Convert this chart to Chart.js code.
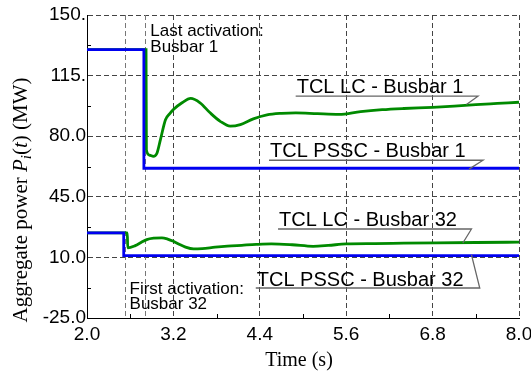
<!DOCTYPE html>
<html><head><meta charset="utf-8">
<script src="https://cdn.jsdelivr.net/npm/chart.js@4/dist/chart.umd.min.js"></script>
<style>html,body{margin:0;padding:0;background:#fff;overflow:hidden}</style>
</head><body>
<canvas id="c" width="531" height="373"></canvas>
<script>
// ---- data ----
const pssc1Time  = [2.0, 2.79, 2.79, 8.0];
const pssc1Power = [130, 130, 61.5, 61.5];
const pssc32Time  = [2.0, 2.51, 2.51, 8.0];
const pssc32Power = [24.2, 24.2, 11, 11];
const lc1Time  = [2.0, 2.80, 2.82, 2.825, 2.87, 2.92, 2.97, 3.02, 3.09, 3.15, 3.2, 3.32, 3.44, 3.57, 3.71, 3.85, 3.99, 4.13, 4.31, 4.5, 4.7, 4.9, 5.2, 5.5, 5.8, 6.1, 6.4, 6.8, 7.1, 7.4, 7.7, 8.0];
const lc1Power = [130, 130, 130, 72, 69, 68.4, 70, 78, 89.5, 93, 95.4, 99.3, 101.8, 99.3, 93.5, 88.6, 85.8, 86.7, 90, 92.3, 93.2, 93.5, 93, 92.6, 94.2, 95.3, 96, 96.7, 97.4, 98.2, 98.9, 99.6];
const lc32Time  = [2.0, 2.56, 2.565, 2.67, 2.75, 2.83, 2.93, 3.04, 3.12, 3.2, 3.28, 3.36, 3.48, 3.6, 3.78, 3.95, 4.15, 4.35, 4.56, 4.85, 5.14, 5.35, 5.6, 6.0, 6.4, 6.85, 7.4, 8.0];
const lc32Power = [24.2, 24.2, 15.5, 16.8, 18.6, 20.3, 21.1, 21.3, 20.6, 19.3, 17.6, 16.1, 14.9, 15.1, 15.9, 16.5, 17, 17.5, 17.8, 17.3, 16.4, 16.9, 17.8, 18.0, 18.2, 18.4, 18.6, 18.8];
const activationTimes = [2.53, 2.81];
const xTickLabels = ['2.0', '3.2', '4.4', '5.6', '6.8', '8.0'];
const yTickLabels = ['-25.0', '10.0', '45.0', '80.0', '115.', '150.'];
const seriesNames = ['TCL PSSC - Busbar 1', 'TCL PSSC - Busbar 32', 'TCL LC - Busbar 1', 'TCL LC - Busbar 32'];
const xTitle = 'Time (s)';

// ---- build chart ----
const pts = (t, v) => t.map((x, i) => ({x: x, y: v[i]}));
const BLUE = '#0000f0', GREEN = '#008a00';

const calloutPlugin = {
  id: 'callouts',
  beforeDatasetsDraw(chart) {
    const {ctx, chartArea: a, scales: {x}} = chart;
    ctx.save();
    ctx.strokeStyle = '#777';
    ctx.lineWidth = 1;
    ctx.setLineDash([5, 3]);
    activationTimes.forEach(t => {
      const px = Math.round(x.getPixelForValue(t)) + 0.5;
      ctx.beginPath(); ctx.moveTo(px, a.top); ctx.lineTo(px, a.bottom); ctx.stroke();
    });
    ctx.restore();
  },
  afterDraw(chart) {
    const {ctx, chartArea: a, scales: {x, y}} = chart;
    ctx.save();
    // minor inner ticks
    ctx.strokeStyle = '#000'; ctx.lineWidth = 1;
    x.ticks.forEach((tk, i) => { if (i % 2) { const px = Math.round(x.getPixelForValue(tk.value)) + 0.5; ctx.beginPath(); ctx.moveTo(px, a.bottom); ctx.lineTo(px, a.bottom - 4); ctx.stroke(); } });
    y.ticks.forEach((tk, i) => { if (i % 2) { const py = Math.round(y.getPixelForValue(tk.value)) + 0.5; ctx.beginPath(); ctx.moveTo(a.left, py); ctx.lineTo(a.left + 4, py); ctx.stroke(); } });

    // callouts
    const co = [
      {name: seriesNames[2], tx: 4.912, ty: 105.0, ux: 7.43, uy: 103.1, px: 7.27, py: 98.3},
      {name: seriesNames[0], tx: 4.542, ty: 68.0, ux: 7.50, uy: 66.1, px: 7.306, py: 61.0},
      {name: seriesNames[3], tx: 4.667, ty: 27.9, ux: 7.34, uy: 26.4, px: 7.22, py: 18.3},
      {name: seriesNames[1], tx: 4.358, ty: -6.3, ux: 7.455, uy: -7.66, px: 7.34, py: 11.5}
    ];
    ctx.font = '20px "Liberation Sans", Arial, sans-serif';
    ctx.fillStyle = '#000'; ctx.textAlign = 'left'; ctx.textBaseline = 'alphabetic';
    co.forEach(c => {
      const tx = x.getPixelForValue(c.tx), ty = y.getPixelForValue(c.ty);
      ctx.fillText(c.name, tx, ty);
      const uy = y.getPixelForValue(c.uy), ux = x.getPixelForValue(c.ux);
      ctx.strokeStyle = '#666'; ctx.lineWidth = 1.3;
      ctx.beginPath(); ctx.moveTo(tx - 1, uy); ctx.lineTo(ux, uy);
      ctx.lineTo(x.getPixelForValue(c.px), y.getPixelForValue(c.py)); ctx.stroke();
    });
    // activation notes
    ctx.font = '17px "Liberation Sans", Arial, sans-serif';
    ctx.fillStyle = '#000';
    const n1x = x.getPixelForValue(2.879);
    ctx.fillText('Last activation:', n1x, y.getPixelForValue(137.75));
    ctx.fillText('Busbar 1', n1x, y.getPixelForValue(128.5));
    const n2x = x.getPixelForValue(2.591);
    ctx.fillText('First activation:', n2x, y.getPixelForValue(-11.3));
    ctx.fillText('Busbar 32', n2x, y.getPixelForValue(-19.8));

    // axis titles
    ctx.font = '20px "Liberation Serif", "Times New Roman", serif';
    ctx.textAlign = 'center';
    ctx.fillText(xTitle, 299, 366);

    const serif = '"Liberation Serif", "Times New Roman", serif';
    const parts = [
      {t: 'Aggregate power ', f: '21px ' + serif, dy: 0},
      {t: 'P', f: 'italic 21px ' + serif, dy: 0},
      {t: 'i', f: 'italic 15px ' + serif, dy: 4},
      {t: '(', f: '21px ' + serif, dy: 0},
      {t: 't', f: 'italic 21px ' + serif, dy: 0},
      {t: ')', f: '21px ' + serif, dy: 0},
      {t: ' (MW)', f: '21px ' + serif, dy: 0}
    ];
    ctx.textAlign = 'left';
    let total = 0;
    parts.forEach(p => { ctx.font = p.f; p.w = ctx.measureText(p.t).width; total += p.w; });
    ctx.translate(27, 200);
    ctx.rotate(-Math.PI / 2);
    let cx = -total / 2;
    parts.forEach(p => { ctx.font = p.f; ctx.fillText(p.t, cx, p.dy); cx += p.w; });
    ctx.restore();
  }
};

new Chart(document.getElementById('c'), {
  type: 'line',
  data: {
    datasets: [
      {label: seriesNames[0], data: pts(pssc1Time, pssc1Power), borderColor: BLUE, borderWidth: 2.8, tension: 0, pointRadius: 0},
      {label: seriesNames[1], data: pts(pssc32Time, pssc32Power), borderColor: BLUE, borderWidth: 2.8, tension: 0, pointRadius: 0},
      {label: seriesNames[2], data: pts(lc1Time, lc1Power), borderColor: GREEN, borderWidth: 2.8, cubicInterpolationMode: 'monotone', pointRadius: 0},
      {label: seriesNames[3], data: pts(lc32Time, lc32Power), borderColor: GREEN, borderWidth: 2.8, cubicInterpolationMode: 'monotone', pointRadius: 0}
    ]
  },
  options: {
    responsive: false,
    animation: false,
    devicePixelRatio: 1,
    layout: {padding: {top: 15, right: 12, left: 0, bottom: 0}},
    plugins: {legend: {display: false}, tooltip: {enabled: false}},
    scales: {
      x: {
        type: 'linear', min: 2, max: 8,
        ticks: {stepSize: 0.6, autoSkip: false, maxRotation: 0, padding: 5, color: '#000',
          font: {family: '"Liberation Sans", Arial, sans-serif', size: 19},
          callback: (v, i) => (i % 2 === 0 ? xTickLabels[i / 2] : '')},
        grid: {drawTicks: false, lineWidth: 1, color: c => (c.index % 2 === 0 ? '#444' : 'rgba(0,0,0,0)')},
        border: {display: true, color: '#000', width: 1, dash: [5, 3]},
        afterFit: s => { s.height = 55; s.paddingLeft = 0; s.paddingRight = 0; }
      },
      y: {
        type: 'linear', min: -25, max: 150,
        ticks: {stepSize: 17.5, autoSkip: false, padding: 1, color: '#000',
          font: {family: '"Liberation Sans", Arial, sans-serif', size: 19},
          callback: (v, i) => (i % 2 === 0 ? yTickLabels[i / 2] : '')},
        grid: {drawTicks: false, lineWidth: 1, color: c => (c.index % 2 === 0 ? '#444' : 'rgba(0,0,0,0)')},
        border: {display: true, color: '#000', width: 1, dash: [5, 3]},
        afterFit: s => { s.width = 87; s.paddingTop = 0; s.paddingBottom = 0; }
      }
    }
  },
  plugins: [calloutPlugin]
});
</script>
</body></html>
